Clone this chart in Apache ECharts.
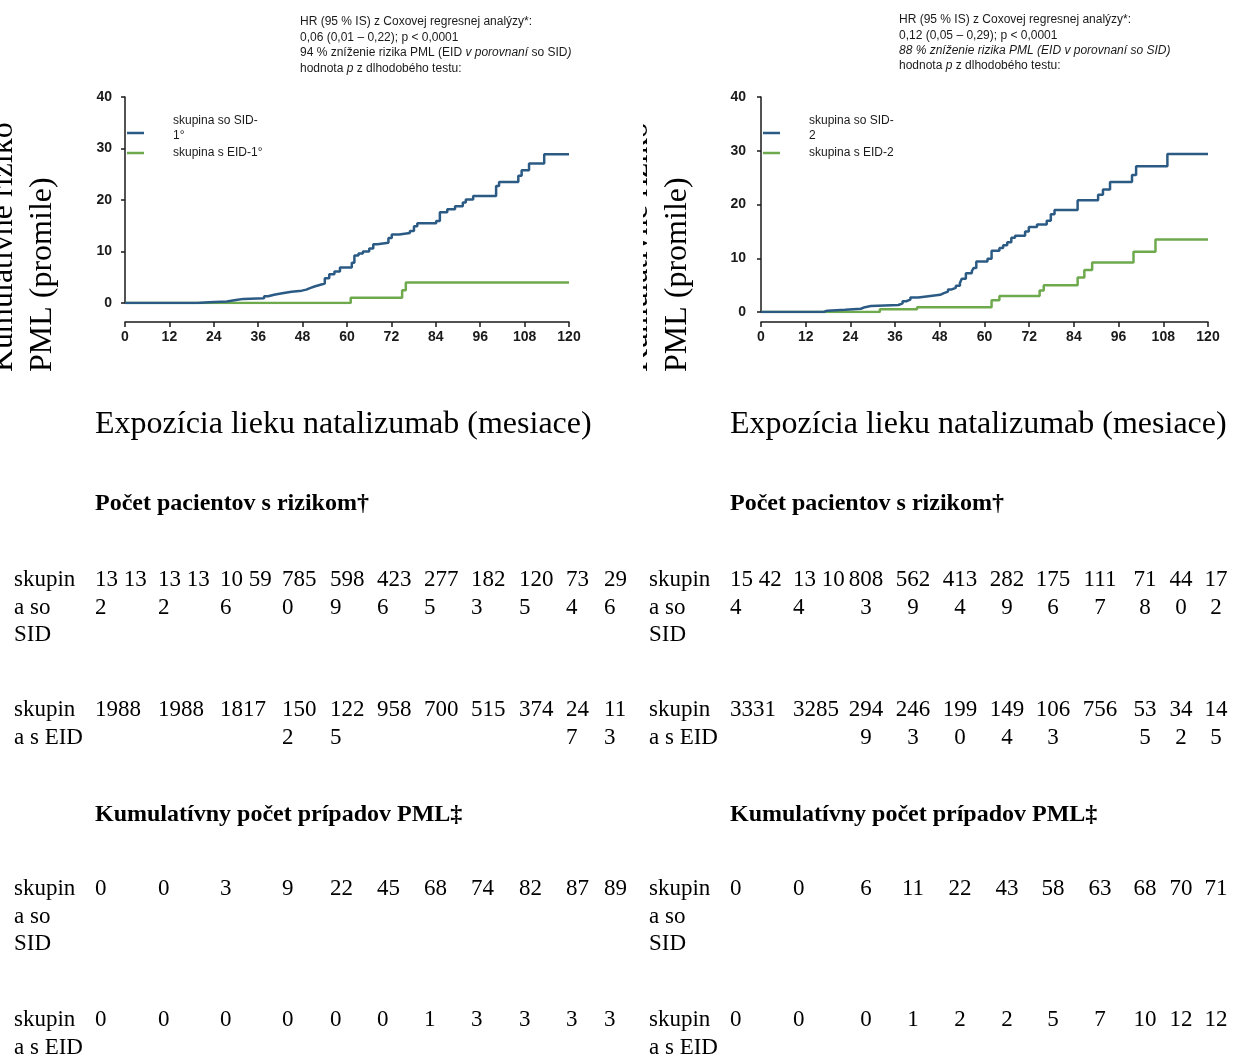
<!DOCTYPE html>
<html><head><meta charset="utf-8">
<script src="https://cdn.jsdelivr.net/npm/echarts@6/dist/echarts.min.js"></script>
<style>html,body{margin:0;padding:0;background:#fff}#c{width:1240px;height:1059px}</style>
</head><body><div id="c"></div>
<script>
// ---------- DATA ----------
const seriesNames1 = ['skupina so SID-1°', 'skupina s EID-1°'];
const seriesNames2 = ['skupina so SID-2', 'skupina s EID-2'];

// cumulative PML risk (per mille) — jump points [month], [value after jump]
const sid1Months = [0,19.5,22.7,27.5,30,32,37.6,38.7,40.3,42.5,45,47.8,49,50,51.2,52.6,54,55.2,56.6,58.1,61.3,62,63.1,64.3,66,67.1,68.2,71.2,72.1,74.1,77,78.1,79,84.1,85.1,87.1,89.2,91.3,92.1,94.1,100.3,101.1,106.3,107.2,109.2,113.3,120];
const sid1Values = [0,0.15,0.3,0.6,0.8,0.9,1.3,1.6,1.9,2.2,2.4,2.6,2.9,3.2,3.5,3.8,4.8,5.6,6.1,6.9,7.8,9.2,9.6,10.0,10.6,11.4,11.7,12.6,13.3,13.6,14.0,14.9,15.5,15.9,17.6,18.2,18.8,19.5,20.1,20.8,22.7,23.5,24.7,25.8,27.1,28.9,28.9];
const eid1Months = [0,61,74.9,75.9,120];
const eid1Values = [0,1.0,2.5,4.0,4.0];

const sid2Months = [0,16.8,17.8,22.6,26.8,27.9,29.5,36.9,38,39,40.1,42.2,44.4,48.1,49.1,50.2,51.2,52.3,53.4,53.9,55,56.6,57.1,57.8,60.8,61.9,64,65,66.1,67.2,68.2,70.9,71.9,74.1,76.7,77.8,78.8,85,90.5,91.8,93.7,99.6,100.7,109.1,120];
const sid2Values = [0,0.25,0.4,0.6,0.9,1.1,1.3,1.6,2.0,2.3,2.7,2.9,3.2,3.5,3.8,4.2,4.5,4.9,5.4,6.2,7.2,7.6,8.2,9.4,9.9,11.4,11.9,12.4,13.0,13.8,14.2,15.0,15.8,16.3,17.0,18.2,19.0,20.8,21.8,22.8,24.2,25.5,27.1,29.4,29.4];
const eid2Months = [0,31.9,41.9,61.9,64,74.8,75.9,85,86.8,88.9,100,105.9,120];
const eid2Values = [0,0.5,0.9,2.2,3.0,4.0,5.0,6.4,7.8,9.2,11.2,13.5,13.5];

// table texts
const tableRowLabels = ['skupin\na so\nSID', 'skupin\na s EID'];
const atRiskSid1 = ['13 132','13 132','10 596','7850','5989','4236','2775','1823','1205','734','296'];
const atRiskEid1 = ['1988','1988','1817','1502','1225','958','700','515','374','247','113'];
const atRiskSid2 = ['15 424','13 104','8083','5629','4134','2829','1756','1117','718','440','172'];
const atRiskEid2 = ['3331','3285','2949','2463','1990','1494','1063','756','535','342','145'];
const cumSid1 = ['0','0','3','9','22','45','68','74','82','87','89'];
const cumEid1 = ['0','0','0','0','0','0','1','3','3','3','3'];
const cumSid2 = ['0','0','6','11','22','43','58','63','68','70','71'];
const cumEid2 = ['0','0','0','1','2','2','5','7','10','12','12'];

const xTitle = 'Expozícia lieku natalizumab (mesiace)';
const yTitle = 'Kumulatívne riziko\nPML (promile)';
const atRiskTitle = 'Počet pacientov s rizikom†';
const cumTitle = 'Kumulatívny počet prípadov PML‡';

// ---------- LAYOUT / STYLE ----------
const BLUE = '#2b5b85', GREEN = '#6eaa4d';
const SERIF = "'Liberation Serif','Times New Roman',serif";
const SANS = "'Liberation Sans',Arial,sans-serif";
const TICKFONT = "'Liberation Sans Narrow','Liberation Sans',Arial,sans-serif";
const YT_LH = 39;
const TFS = 23;

const panels = [
  {grid:{left:125, top:97, width:444, height:206}, xOff:19, yOff:9,
   names: seriesNames1, sid:[sid1Months,sid1Values], eid:[eid1Months,eid1Values],
   annoX:300, annoY:[22,38,53,69],
   anno:['{n|HR (95 % IS) z Coxovej regresnej analýzy*:}',
         '{n|0,06 (0,01 – 0,22); p < 0,0001}',
         '{n|94 % zníženie rizika PML (EID }{i|v porovnaní}{n| so SID}{i|)}',
         '{n|hodnota }{i|p}{n| z dlhodobého testu:}'],
   cols:[95,158,220,282,330,377,424,471,519,566,604], colAlign:['left','left','left','left','left','left','left','left','left','left','left'],
   caps:[5,5,5,3,3,3,3,3,3,2,2],
   rows:[atRiskSid1, atRiskEid1, cumSid1, cumEid1], labelX:14, titleX:95, yTitleX:42.2 - 1.5*YT_LH},
  {grid:{left:761, top:97, width:447, height:215}, xOff:10, yOff:11,
   names: seriesNames2, sid:[sid2Months,sid2Values], eid:[eid2Months,eid2Values],
   annoX:899, annoY:[20,36,51,66],
   anno:['{n|HR (95 % IS) z Coxovej regresnej analýzy*:}',
         '{n|0,12 (0,05 – 0,29); p < 0,0001}',
         '{i|88 % zníženie rizika PML (EID v porovnaní so SID)}',
         '{n|hodnota }{i|p}{n| z dlhodobého testu:}'],
   cols:[730,793,866,913,960,1007,1053,1100,1145,1181,1216], colAlign:['left','left','center','center','center','center','center','center','center','center','center'],
   caps:[5,5,3,3,3,3,3,3,2,2,2],
   rows:[atRiskSid2, atRiskEid2, cumSid2, cumEid2], labelX:649, titleX:730, yTitleX:677.2 - 1.5*YT_LH}
];

const rowTopY = [580, 710, 889, 1020];
const LH = 27.5;

function pairs(m, v){ return m.map((x,i)=>[x, v[i]]); }
function wrap(s, cap){ const out=[]; for(let i=0;i<s.length;i+=cap) out.push(s.slice(i,i+cap).trim()); return out; }

const legendRich = {
  a:{fontFamily:SANS, fontSize:12, lineHeight:15, color:'#1a1a1a'},
  s:{fontFamily:SANS, fontSize:1, lineHeight:10}
};

const grids=[], xAxes=[], yAxes=[], series=[], legends=[], graphics=[];
panels.forEach((p, gi)=>{
  grids.push(p.grid);
  xAxes.push({type:'value', gridIndex:gi, min:0, max:120, interval:12, offset:p.xOff,
    axisLine:{show:true, onZero:false, lineStyle:{color:'#1a1a1a', width:1.5}},
    axisTick:{show:true, length:5, lineStyle:{color:'#1a1a1a', width:1.5}},
    splitLine:{show:false},
    axisLabel:{margin:8, color:'#1a1a1a', fontWeight:'bold', fontSize:14, fontFamily:TICKFONT}});
  yAxes.push({type:'value', gridIndex:gi, min:0, max:40, interval:10, offset:p.yOff,
    axisLine:{show:true, lineStyle:{color:'#1a1a1a', width:1.5}},
    axisTick:{show:true, length:4, lineStyle:{color:'#1a1a1a', width:1.5}},
    splitLine:{show:false},
    axisLabel:{margin:4, color:'#1a1a1a', fontWeight:'bold', fontSize:14, fontFamily:TICKFONT}});
  series.push({name:p.names[0], type:'line', xAxisIndex:gi, yAxisIndex:gi, step:'end', symbol:'none', showSymbol:false, z:3,
    data:pairs(p.sid[0], p.sid[1]), lineStyle:{color:BLUE, width:2.5}, itemStyle:{color:BLUE}});
  series.push({name:p.names[1], type:'line', xAxisIndex:gi, yAxisIndex:gi, step:'end', symbol:'none', showSymbol:false, z:2,
    data:pairs(p.eid[0], p.eid[1]), lineStyle:{color:GREEN, width:2.5}, itemStyle:{color:GREEN}});
  // legend: one component per item so each line sample sits where the reference has it
  legends.push({data:[p.names[0]], orient:'vertical', left:p.grid.left+2, top:113, padding:0,
    icon:'rect', itemWidth:17, itemHeight:2.5,
    formatter: n => '{a|' + n.replace('SID-', 'SID-}\n{a|') + '}\n{s| }',
    textStyle:{fontFamily:SANS, fontSize:12, lineHeight:15, color:'#1a1a1a', padding:[0,0,0,24], rich:legendRich}});
  legends.push({data:[p.names[1]], orient:'vertical', left:p.grid.left+2, top:145.5, padding:0,
    icon:'rect', itemWidth:17, itemHeight:2.5,
    textStyle:{fontFamily:SANS, fontSize:12, lineHeight:15, color:'#1a1a1a', padding:[0,0,0,24]}});

  // annotation
  p.anno.forEach((t, k)=>{
    graphics.push({type:'text', x:p.annoX, y:p.annoY[k], silent:true,
      style:{text:t, textAlign:'left', textVerticalAlign:'middle', fill:'#1a1a1a', fontFamily:SANS, fontSize:12,
        rich:{n:{fontFamily:SANS, fontSize:12, fill:'#1a1a1a'}, i:{fontFamily:SANS, fontSize:12, fontStyle:'italic', fill:'#1a1a1a'}}}});
  });
  // y title (rotated)
  graphics.push({type:'text', x:p.yTitleX, y:372, rotation:Math.PI/2, silent:true, z:1,
    style:{text:yTitle, textAlign:'left', textVerticalAlign:'top', fill:'#000', fontFamily:SERIF, fontSize:32, lineHeight:YT_LH}});
  // x title and table headings
  graphics.push({type:'text', x:p.titleX, y:425, silent:true,
    style:{text:xTitle, textAlign:'left', textVerticalAlign:'middle', fill:'#000', fontFamily:SERIF, fontSize:32}});
  graphics.push({type:'text', x:p.titleX, y:504, silent:true,
    style:{text:atRiskTitle, textAlign:'left', textVerticalAlign:'middle', fill:'#000', fontFamily:SERIF, fontSize:24, fontWeight:'bold'}});
  graphics.push({type:'text', x:p.titleX, y:815, silent:true,
    style:{text:cumTitle, textAlign:'left', textVerticalAlign:'middle', fill:'#000', fontFamily:SERIF, fontSize:24, fontWeight:'bold'}});
  // table rows
  p.rows.forEach((vals, r)=>{
    const y0 = rowTopY[r];
    graphics.push({type:'text', x:p.labelX, y:y0 - LH/2, silent:true,
      style:{text:tableRowLabels[r % 2], textAlign:'left', textVerticalAlign:'top', fill:'#000', fontFamily:SERIF, fontSize:TFS, lineHeight:LH}});
    vals.forEach((v, c)=>{
      wrap(v, p.caps[c]).forEach((ln, li)=>{
        graphics.push({type:'text', x:p.cols[c], y:y0 + li*LH, silent:true,
          style:{text:ln, textAlign:p.colAlign[c], textVerticalAlign:'middle', fill:'#000', fontFamily:SERIF, fontSize:TFS}});
      });
    });
  });
});
// right panel left-edge crop
graphics.push({type:'rect', shape:{x:590, y:100, width:53, height:290}, style:{fill:'#fff'}, z:50, silent:true});

const chart = echarts.init(document.getElementById('c'), null, {renderer:'canvas'});
chart.setOption({
  animation:false, backgroundColor:'#fff',
  grid:grids, xAxis:xAxes, yAxis:yAxes, legend:legends, series:series, graphic:graphics
});
</script></body></html>
